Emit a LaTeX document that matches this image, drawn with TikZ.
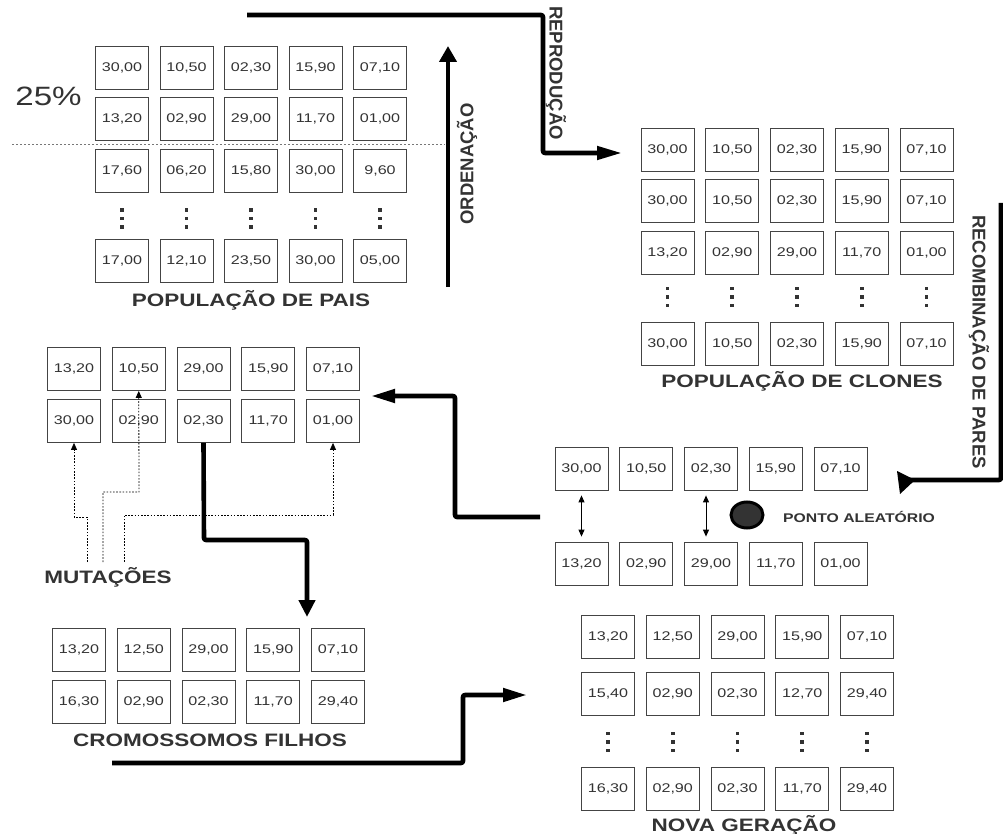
\documentclass[tikz,border=0pt]{standalone}
\usepackage{fontspec}
\newfontfamily\numfont{Liberation Sans}[FakeStretch=1.28]
\newfontfamily\lblfont{Liberation Sans}[FakeStretch=1.25]
\newfontfamily\rotfont{Liberation Sans}
\usetikzlibrary{arrows.meta,shapes.geometric}
\definecolor{txt}{HTML}{333333}
\definecolor{boxc}{HTML}{444444}
\definecolor{sepc}{HTML}{777777}
\newcommand\gridrow[5]{\foreach \v [count=\c] in {#5}{\node[cell] (#1-\c) at ({#2+(\c-1)*#3},#4) {\v};}}
\newcommand\vdotsrow[3]{\foreach \c in {1,...,5}{\foreach \d in {-8.5,0,8.5}{\fill[txt] ({#1+(\c-1)*#2-1.8},{#3+\d-1.8}) rectangle ++(3.6,3.6);}}}
\begin{document}
\begin{tikzpicture}[x=1pt,y=-1pt,
  cell/.style={draw=boxc, line width=0.8pt, minimum width=53pt, minimum height=43pt, inner sep=0pt,
    font=\numfont\fontsize{12.6}{12.6}\selectfont, text=txt},
  lbl/.style={font=\lblfont\bfseries\fontsize{18}{18}\selectfont, text=txt, inner sep=0pt},
  rot/.style={font=\rotfont\bfseries\fontsize{18.5}{18.5}\selectfont, text=txt, inner sep=0pt},
  flow/.style={line width=4.6pt, line join=round, rounded corners=2pt},
  mut/.style={line width=0.8pt, dash pattern=on 1.6pt off 1.6pt, -{Triangle[length=7pt,width=6pt]}},
  dbl/.style={line width=0.9pt, {Triangle[length=7pt,width=6pt]}-{Triangle[length=7pt,width=6pt]}}]
\fill[white] (0,0) rectangle (1003,834);
\useasboundingbox (0,0) rectangle (1003,834);

% ---------- POPULACAO DE PAIS ----------
\gridrow{pa1}{122}{64.5}{67.5}{{30,00},{10,50},{02,30},{15,90},{07,10}}
\gridrow{pa2}{122}{64.5}{119}{{13,20},{02,90},{29,00},{11,70},{01,00}}
\gridrow{pa3}{122}{64.5}{170.5}{{17,60},{06,20},{15,80},{30,00},{9,60}}
\vdotsrow{122}{64.5}{218.5}
\gridrow{pa5}{122}{64.5}{260.5}{{17,00},{12,10},{23,50},{30,00},{05,00}}
\node[lbl] (paisl) at (251,300) {POPULAÇÃO DE PAIS};
\node[font=\lblfont\fontsize{26.5}{26.5}\selectfont, text=txt, inner sep=0pt] (pct) at (48.5,96) {25\%};
\coordinate (sepa) at (12,145);
\coordinate (sepb) at (445,145);
\draw[sepc, line width=1pt, dash pattern=on 2pt off 2pt] (sepa) -- (sepb);

% ORDENACAO
\coordinate (ords) at (448,287);
\coordinate (orde) at (448,46);
\draw[flow, -{Triangle[length=16pt,width=17pt]}] (ords) -- (orde);
\node[rot, rotate=90] (ordl) at (467,164) {ORDENAÇÃO};

% REPRODUCAO
\coordinate (reps) at (247,15);
\coordinate (repe) at (622,153);
\draw[flow, -{Triangle[length=25pt,width=13pt]}] (reps) -- (543,15) -- (543,153) -- (repe);
\node[rot, rotate=-90] (repl) at (556,73) {REPRODUÇÃO};

% ---------- POPULACAO DE CLONES ----------
\gridrow{cl1}{667.5}{64.75}{149.5}{{30,00},{10,50},{02,30},{15,90},{07,10}}
\gridrow{cl2}{667.5}{64.75}{201}{{30,00},{10,50},{02,30},{15,90},{07,10}}
\gridrow{cl3}{667.5}{64.75}{252.5}{{13,20},{02,90},{29,00},{11,70},{01,00}}
\vdotsrow{667.5}{64.75}{297}
\gridrow{cl5}{667.5}{64.75}{344}{{30,00},{10,50},{02,30},{15,90},{07,10}}
\node[lbl] (clonl) at (802,381) {POPULAÇÃO DE CLONES};

% RECOMBINACAO DE PARES
\coordinate (recs) at (1001,203);
\coordinate (rece) at (906,480);
\draw[flow] (recs) -- (1001,480) -- (rece);
\coordinate (rta) at (897,471);
\coordinate (rtb) at (900,494);
\coordinate (rtc) at (915,480);
\fill (rta) -- (rtb) -- (rtc) -- cycle;
\node[rot, rotate=-90] (recl) at (979,342) {RECOMBINAÇÃO DE PARES};

% ---------- CRUZAMENTO ----------
\gridrow{cx1}{581.5}{64.75}{468.5}{{30,00},{10,50},{02,30},{15,90},{07,10}}
\gridrow{cx2}{581.5}{64.75}{563.5}{{13,20},{02,90},{29,00},{11,70},{01,00}}
\draw[dbl] ([yshift=-5pt]cx1-1.south) -- ([yshift=5pt]cx2-1.north);
\draw[dbl] ([xshift=-5pt,yshift=-5pt]cx1-3.south) -- ([xshift=-5pt,yshift=5pt]cx2-3.north);
\node[ellipse, draw=black, line width=3pt, fill=txt, minimum width=32pt, minimum height=26pt, inner sep=0pt] (pto) at (747,515) {};
\node[font=\lblfont\bfseries\fontsize{12.6}{12.6}\selectfont, text=txt, anchor=west, inner sep=0pt] (ptol) at (783,517) {PONTO ALEATÓRIO};

% arrow to mutation grid
\coordinate (lfs) at (540,517);
\coordinate (lfe) at (371,396);
\draw[flow, -{Triangle[length=24pt,width=13pt]}] (lfs) -- (455,517) -- (455,396) -- (lfe);

% ---------- MUTACOES ----------
\gridrow{mu1}{74}{64.75}{369}{{13,20},{10,50},{29,00},{15,90},{07,10}}
\gridrow{mu2}{74}{64.75}{421}{{30,00},{02,90},{02,30},{11,70},{01,00}}
\node[lbl] (mutl) at (108,577) {MUTAÇÕES};
\coordinate (ma) at (87,562);
\coordinate (mb) at (103,562);
\coordinate (mc) at (124,562);
\draw[mut] (ma) -- (87,517) -- (74,517) -- (mu2-1.south);
\draw[mut] (mb) -- (103,492) -- (139,492) -- (mu1-2.south);
\draw[mut] (mc) -- (124,515) -- (333,515) -- (mu2-5.south);

% down arrow
\coordinate (dne) at (307,617);
\draw[flow, -{Triangle[length=17pt,width=16pt]}] (mu2-3.south) -- (204,540) -- (307,540) -- (dne);

% ---------- CROMOSSOMOS FILHOS ----------
\gridrow{fi1}{79}{64.75}{650}{{13,20},{12,50},{29,00},{15,90},{07,10}}
\gridrow{fi2}{79}{64.75}{701.5}{{16,30},{02,90},{02,30},{11,70},{29,40}}
\node[lbl] (filhl) at (210,740) {CROMOSSOMOS FILHOS};

% bottom arrow
\coordinate (bts) at (112,763);
\coordinate (bte) at (527,695);
\draw[flow, -{Triangle[length=24pt,width=13pt]}] (bts) -- (463,763) -- (463,695) -- (bte);

% ---------- NOVA GERACAO ----------
\gridrow{ng1}{608}{64.75}{636.5}{{13,20},{12,50},{29,00},{15,90},{07,10}}
\gridrow{ng2}{608}{64.75}{693.5}{{15,40},{02,90},{02,30},{12,70},{29,40}}
\vdotsrow{608}{64.75}{742}
\gridrow{ng5}{608}{64.75}{788.5}{{16,30},{02,90},{02,30},{11,70},{29,40}}
\node[lbl] (novl) at (744,825) {NOVA GERAÇÃO};
\end{tikzpicture}
\end{document}
